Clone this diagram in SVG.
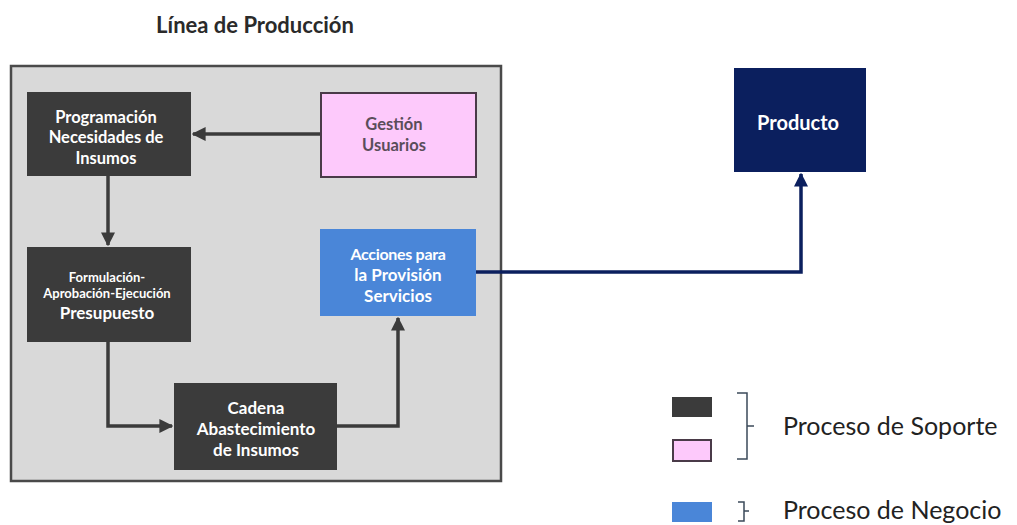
<svg xmlns="http://www.w3.org/2000/svg" width="1017" height="525" viewBox="0 0 1017 525">
<defs>
<style>
text{font-family:Lato,"Open Sans","Liberation Sans",sans-serif;text-anchor:middle}
.w{fill:#fff;font-weight:bold}
.dark{fill:#3b3b3b}
.conn{fill:none;stroke:#3b3b3b;stroke-width:3.5}
.nav{fill:none;stroke:#0b1f5e;stroke-width:3.5}
.leg{font-size:25px;fill:#222;text-anchor:start}
</style>
<marker id="ah" viewBox="0 0 10 10" refX="9" refY="5" markerWidth="4" markerHeight="4" markerUnits="strokeWidth" orient="auto"><path d="M0,0L10,5L0,10z" fill="#3b3b3b"/></marker>
<marker id="ahn" viewBox="0 0 10 10" refX="9" refY="5" markerWidth="4" markerHeight="4" markerUnits="strokeWidth" orient="auto"><path d="M0,0L10,5L0,10z" fill="#0b1f5e"/></marker>
</defs>
<rect width="1017" height="525" fill="#fff"/>
<text x="255" y="33" font-size="22" font-weight="bold" fill="#2a2a2a">Línea de Producción</text>
<rect x="11" y="66" width="490" height="415" fill="#d9d9d9" stroke="#4a4a4a" stroke-width="2.5"/>
<g id="connectors">
<path class="conn" d="M320,134H193" marker-end="url(#ah)"/>
<path class="conn" d="M108,176V245" marker-end="url(#ah)"/>
<path class="conn" d="M108,342V426H172" marker-end="url(#ah)"/>
<path class="conn" d="M337,426H398V318" marker-end="url(#ah)"/>
<path class="nav" d="M476,272H801V174" marker-end="url(#ahn)"/>
</g>
<g id="programacion">
<rect x="27" y="92" width="164" height="84" class="dark"/>
<text class="w" x="106" y="123" font-size="16.5">Programación</text>
<text class="w" x="106" y="143" font-size="16.5">Necesidades de</text>
<text class="w" x="106" y="164" font-size="16.5">Insumos</text>
</g>
<g id="gestion">
<rect x="321" y="93" width="155" height="84" fill="#fdc9fb" stroke="#4a3a48" stroke-width="2"/>
<text x="394" y="130" font-size="16.5" font-weight="bold" fill="#5a4d5a">Gestión</text>
<text x="394" y="151" font-size="16.5" font-weight="bold" fill="#5a4d5a">Usuarios</text>
</g>
<g id="formulacion">
<rect x="27" y="247" width="164" height="95" class="dark"/>
<text class="w" x="107" y="282" font-size="13">Formulación-</text>
<text class="w" x="107" y="298" font-size="13">Aprobación-Ejecución</text>
<text class="w" x="107" y="319" font-size="17">Presupuesto</text>
</g>
<g id="acciones">
<rect x="320" y="229" width="156" height="87" fill="#4a86d8"/>
<text class="w" x="398" y="260" font-size="16" letter-spacing="-0.3">Acciones para</text>
<text class="w" x="398" y="281" font-size="17">la Provisión</text>
<text class="w" x="398" y="302" font-size="17">Servicios</text>
</g>
<g id="cadena">
<rect x="174" y="383" width="163" height="87" class="dark"/>
<text class="w" x="256" y="414" font-size="17">Cadena</text>
<text class="w" x="256" y="435" font-size="17">Abastecimiento</text>
<text class="w" x="256" y="456" font-size="17">de Insumos</text>
</g>
<g id="producto">
<rect x="734" y="68" width="132" height="104" fill="#0b1f5e"/>
<text class="w" x="798" y="130" font-size="20">Producto</text>
</g>
<g id="legend">
<rect x="672" y="397" width="40" height="20" fill="#3b3b3b"/>
<rect x="673" y="440" width="38" height="21" fill="#fdc9fb" stroke="#4a3a48" stroke-width="2"/>
<path d="M737,393H747V459H737M747,426H754" fill="none" stroke="#3b4a5a" stroke-width="1.5"/>
<text class="leg" x="783" y="435">Proceso de Soporte</text>
<rect x="672" y="502" width="40" height="20" fill="#4a86d8"/>
<path d="M738,502H744V521H738M744,511H749" fill="none" stroke="#3b4a5a" stroke-width="1.5"/>
<text class="leg" x="783" y="519">Proceso de Negocio</text>
</g>
</svg>
